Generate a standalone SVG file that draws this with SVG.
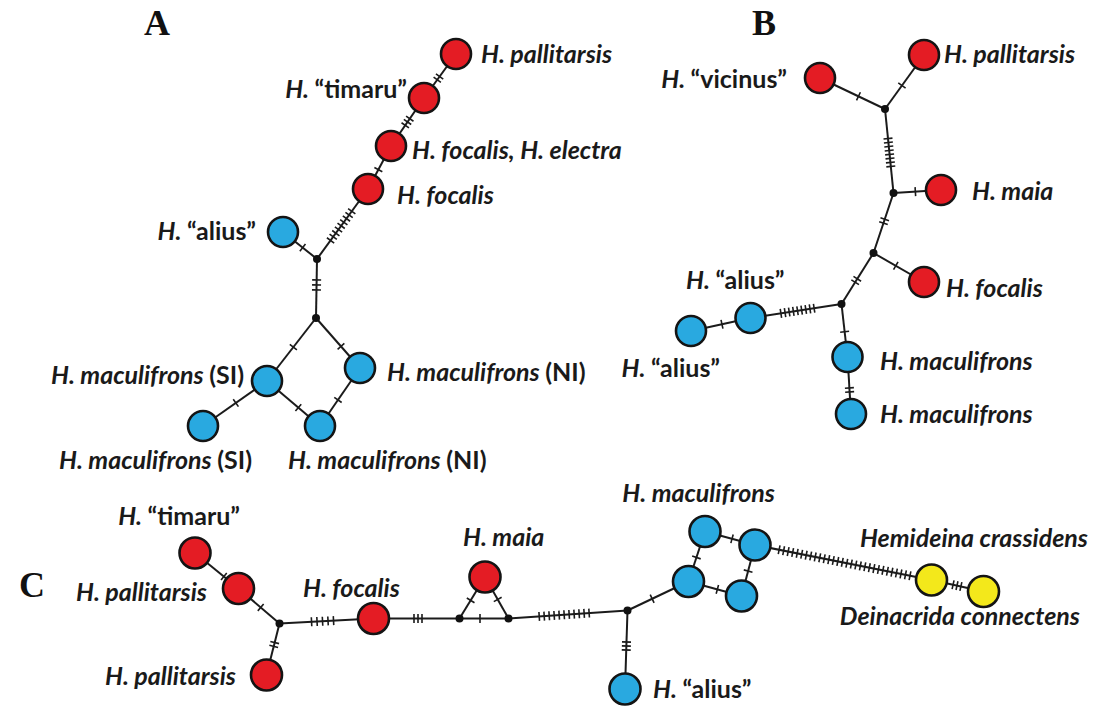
<svg xmlns="http://www.w3.org/2000/svg" width="1093" height="708" viewBox="0 0 1093 708">
<style>
  .e{fill:none;stroke:#1b1b1b;stroke-width:2}
  .t{fill:none;stroke:#1b1b1b;stroke-width:9;stroke-linecap:butt}
  .n{stroke:#141414;stroke-width:2.6}
  .r{fill:#e41c24}
  .b{fill:#29a9e0}
  .y{fill:#f3e81b}
  .j{fill:#111}
  .lb{font-family:Lato,"Liberation Sans",sans-serif;font-weight:bold;font-style:italic;font-size:25px;fill:#1a1a1a}
  .u{font-style:normal}
  .pl{font-family:"Liberation Serif","Times New Roman",serif;font-weight:bold;font-size:36px;fill:#111;text-anchor:middle}
  .end{text-anchor:end}
</style>

<!-- panel letters -->
<text class="pl" x="157" y="35">A</text>
<text class="pl" x="764" y="35">B</text>
<text class="pl" x="32" y="597">C</text>

<!-- connectors: branch lines plus mutation hatch marks -->
<g id="connectors">
  <!-- network A -->
  <path class="e" d="M456 54L424 98"/><path class="t" d="M456 54L424 98" stroke-dasharray="0 27.1 1.6 2.4 1.6 2000"/>
  <path class="e" d="M424 98L391 146"/><path class="t" d="M424 98L391 146" stroke-dasharray="0 24.3 1.6 2.4 1.6 2.4 1.6 2000"/>
  <path class="e" d="M391 146L368 189"/><path class="t" d="M391 146L368 189" stroke-dasharray="0 26 1.6 2000"/>
  <path class="e" d="M368 189L317 259"/><path class="t" d="M368 189L317 259" stroke-dasharray="0 26.8 1.6 2.9 1.6 2.9 1.6 2.9 1.6 2.9 1.6 2.9 1.6 2.9 1.6 2.9 1.6 2.9 1.6 2000"/>
  <path class="e" d="M283 232L317 259"/><path class="t" d="M283 232L317 259" stroke-dasharray="0 24.3 1.6 2000"/>
  <path class="e" d="M317 259L316 318"/><path class="t" d="M317 259L316 318" stroke-dasharray="0 20.2 1.6 3.4 1.6 3.4 1.6 2000"/>
  <path class="e" d="M316 318L267 381"/><path class="t" d="M316 318L267 381" stroke-dasharray="0 36.1 1.6 2000"/>
  <path class="e" d="M316 318L360 368"/><path class="t" d="M316 318L360 368" stroke-dasharray="0 37 1.6 2000"/>
  <path class="e" d="M267 381L203 426"/><path class="t" d="M267 381L203 426" stroke-dasharray="0 37.3 1.6 2000"/>
  <path class="e" d="M267 381L320 426"/><path class="t" d="M267 381L320 426" stroke-dasharray="0 40.3 1.6 2000"/>
  <path class="e" d="M360 368L320 426"/><path class="t" d="M360 368L320 426" stroke-dasharray="0 38 1.6 2000"/>

  <!-- network B -->
  <path class="e" d="M820 78L885 109"/><path class="t" d="M820 78L885 109" stroke-dasharray="0 41.8 1.6 2000"/>
  <path class="e" d="M924 55L885 109"/><path class="t" d="M924 55L885 109" stroke-dasharray="0 36.9 1.6 2000"/>
  <path class="e" d="M885 109L893.5 193"/><path class="t" d="M885 109L893.5 193" stroke-dasharray="0 28.9 1.6 2.4 1.6 2.4 1.6 2.4 1.6 2.4 1.6 2.4 1.6 2.4 1.6 2.4 1.6 2000"/>
  <path class="e" d="M893.5 193L941 190"/><path class="t" d="M893.5 193L941 190" stroke-dasharray="0 21.1 1.6 2000"/>
  <path class="e" d="M893.5 193L873.5 253"/><path class="t" d="M893.5 193L873.5 253" stroke-dasharray="0 26.9 1.6 2.4 1.6 2000"/>
  <path class="e" d="M873.5 253L924 282"/><path class="t" d="M873.5 253L924 282" stroke-dasharray="0 24.9 1.6 2000"/>
  <path class="e" d="M873.5 253L841.5 304"/><path class="t" d="M873.5 253L841.5 304" stroke-dasharray="0 29.7 1.6 2.4 1.6 2000"/>
  <path class="e" d="M841.5 304L750.5 318"/><path class="t" d="M841.5 304L750.5 318" stroke-dasharray="0 26.9 1.6 2.6 1.6 2.6 1.6 2.6 1.6 2.6 1.6 2.6 1.6 2.6 1.6 2.6 1.6 2.6 1.6 2000"/>
  <path class="e" d="M750.5 318L691 331"/><path class="t" d="M750.5 318L691 331" stroke-dasharray="0 28.4 1.6 2000"/>
  <path class="e" d="M841.5 304L847.5 357"/><path class="t" d="M841.5 304L847.5 357" stroke-dasharray="0 27.1 1.6 2000"/>
  <path class="e" d="M847.5 357L851 414"/><path class="t" d="M847.5 357L851 414" stroke-dasharray="0 30.2 1.6 2.4 1.6 2000"/>

  <!-- network C -->
  <path class="e" d="M195 553L238.5 588.5"/><path class="t" d="M195 553L238.5 588.5" stroke-dasharray="0 36.5 1.6 2000"/>
  <path class="e" d="M238.5 588.5L279.5 623.5"/><path class="t" d="M238.5 588.5L279.5 623.5" stroke-dasharray="0 28.4 1.6 2000"/>
  <path class="e" d="M279.5 623.5L266.5 675"/><path class="t" d="M279.5 623.5L266.5 675" stroke-dasharray="0 18.8 1.6 2.4 1.6 2000"/>
  <path class="e" d="M279.5 623.5L373.5 618.5"/><path class="t" d="M279.5 623.5L373.5 618.5" stroke-dasharray="0 31.3 1.6 3.9 1.6 3.9 1.6 3.9 1.6 3.9 1.6 2000"/>
  <path class="e" d="M373.5 618.5L459.5 618.5"/><path class="t" d="M373.5 618.5L459.5 618.5" stroke-dasharray="0 39.7 1.6 2.4 1.6 2.4 1.6 2000"/>
  <path class="e" d="M459.5 618.5L485 577"/><path class="t" d="M459.5 618.5L485 577" stroke-dasharray="0 20.5 1.6 2000"/>
  <path class="e" d="M508.5 618.5L485 577"/><path class="t" d="M508.5 618.5L485 577" stroke-dasharray="0 21.1 1.6 2000"/>
  <path class="e" d="M459.5 618.5L508.5 618.5"/><path class="t" d="M459.5 618.5L508.5 618.5" stroke-dasharray="0 19.7 1.6 2000"/>
  <path class="e" d="M508.5 618.5L627.5 610.5"/><path class="t" d="M508.5 618.5L627.5 610.5" stroke-dasharray="0 30 1.6 3.4 1.6 3.4 1.6 3.4 1.6 3.4 1.6 3.4 1.6 3.4 1.6 3.4 1.6 3.4 1.6 3.4 1.6 3.4 1.6 2000"/>
  <path class="e" d="M627.5 610.5L625 689"/><path class="t" d="M627.5 610.5L625 689" stroke-dasharray="0 30.7 1.6 2.4 1.6 2.4 1.6 2000"/>
  <path class="e" d="M627.5 610.5L688.5 581.5"/><path class="t" d="M627.5 610.5L688.5 581.5" stroke-dasharray="0 26.5 1.6 2000"/>
  <path class="e" d="M688.5 581.5L705 531.5"/><path class="t" d="M688.5 581.5L705 531.5" stroke-dasharray="0 24.5 1.6 2000"/>
  <path class="e" d="M705 531.5L755 545"/><path class="t" d="M705 531.5L755 545" stroke-dasharray="0 27.2 1.6 2000"/>
  <path class="e" d="M755 545L741.5 596"/><path class="t" d="M755 545L741.5 596" stroke-dasharray="0 26.1 1.6 2000"/>
  <path class="e" d="M688.5 581.5L741.5 596"/><path class="t" d="M688.5 581.5L741.5 596" stroke-dasharray="0 29.1 1.6 2000"/>
  <path class="e" d="M755 545L931.5 580"/><path class="t" d="M755 545L931.5 580" stroke-dasharray="0 23.8 1.6 3 1.6 3 1.6 3 1.6 3 1.6 3 1.6 3 1.6 3 1.6 3 1.6 3 1.6 3 1.6 3 1.6 3 1.6 3 1.6 3 1.6 3 1.6 3 1.6 3 1.6 3 1.6 3 1.6 3 1.6 3 1.6 3 1.6 3 1.6 3 1.6 3 1.6 3 1.6 3 1.6 3 1.6 3 1.6 2000"/>
  <path class="e" d="M931.5 580L983.5 591.5"/><path class="t" d="M931.5 580L983.5 591.5" stroke-dasharray="0 21.3 1.6 2.4 1.6 2.4 1.6 2000"/>
</g>

<!-- network A nodes -->
<g id="a-pallitarsis"><circle class="n r" cx="456" cy="54" r="15"/><text class="lb" x="481" y="63">H. pallitarsis</text></g>
<g id="a-timaru"><circle class="n r" cx="424" cy="98" r="15"/><text class="lb end" x="407" y="98">H. <tspan class="u">“timaru”</tspan></text></g>
<g id="a-focalis-electra"><circle class="n r" cx="391" cy="146" r="15"/><text class="lb" x="412" y="159">H. focalis, H. electra</text></g>
<g id="a-focalis"><circle class="n r" cx="368" cy="189" r="15"/><text class="lb" x="397" y="204">H. focalis</text></g>
<g id="a-alius"><circle class="n b" cx="283" cy="232" r="15"/><text class="lb end" x="256" y="240">H. <tspan class="u">“alius”</tspan></text></g>
<g id="a-mac-si-1"><circle class="n b" cx="267" cy="381" r="15"/><text class="lb end" x="244" y="384">H. maculifrons <tspan class="u">(SI)</tspan></text></g>
<g id="a-mac-ni-1"><circle class="n b" cx="360" cy="368" r="15"/><text class="lb" x="387" y="381">H. maculifrons <tspan class="u">(NI)</tspan></text></g>
<g id="a-mac-si-2"><circle class="n b" cx="203" cy="426" r="15"/><text class="lb end" x="252" y="469">H. maculifrons <tspan class="u">(SI)</tspan></text></g>
<g id="a-mac-ni-2"><circle class="n b" cx="320" cy="426" r="15"/><text class="lb" x="288" y="469">H. maculifrons <tspan class="u">(NI)</tspan></text></g>
<g id="a-median-1"><circle class="j" cx="317" cy="259" r="4"/></g>
<g id="a-median-2"><circle class="j" cx="316" cy="318" r="4"/></g>

<!-- network B nodes -->
<g id="b-vicinus"><circle class="n r" cx="820" cy="78" r="15"/><text class="lb end" x="787" y="88">H. <tspan class="u">“vicinus”</tspan></text></g>
<g id="b-pallitarsis"><circle class="n r" cx="924" cy="55" r="15"/><text class="lb" x="944" y="63">H. pallitarsis</text></g>
<g id="b-maia"><circle class="n r" cx="941" cy="190" r="15"/><text class="lb" x="972" y="200">H. maia</text></g>
<g id="b-focalis"><circle class="n r" cx="924" cy="282" r="15"/><text class="lb" x="946" y="297">H. focalis</text></g>
<g id="b-alius-1"><circle class="n b" cx="750.5" cy="318" r="15"/><text class="lb" x="686" y="289">H. <tspan class="u">“alius”</tspan></text></g>
<g id="b-alius-2"><circle class="n b" cx="691" cy="331" r="15"/><text class="lb end" x="720" y="377">H. <tspan class="u">“alius”</tspan></text></g>
<g id="b-mac-1"><circle class="n b" cx="847.5" cy="357" r="15"/><text class="lb" x="880" y="370">H. maculifrons</text></g>
<g id="b-mac-2"><circle class="n b" cx="851" cy="414" r="15"/><text class="lb" x="880" y="423">H. maculifrons</text></g>
<g id="b-median-1"><circle class="j" cx="885" cy="109" r="4"/></g>
<g id="b-median-2"><circle class="j" cx="893.5" cy="193" r="4"/></g>
<g id="b-median-3"><circle class="j" cx="873.5" cy="253" r="4"/></g>
<g id="b-median-4"><circle class="j" cx="841.5" cy="304" r="4"/></g>

<!-- network C nodes -->
<g id="c-timaru"><circle class="n r" cx="195" cy="553" r="15.5"/><text class="lb end" x="240" y="525">H. <tspan class="u">“timaru”</tspan></text></g>
<g id="c-pallitarsis-1"><circle class="n r" cx="238.5" cy="588.5" r="15.5"/><text class="lb end" x="207" y="601">H. pallitarsis</text></g>
<g id="c-pallitarsis-2"><circle class="n r" cx="266.5" cy="675" r="15.5"/><text class="lb end" x="236" y="685">H. pallitarsis</text></g>
<g id="c-focalis"><circle class="n r" cx="373.5" cy="618.5" r="15.5"/><text class="lb" x="303" y="597">H. focalis</text></g>
<g id="c-maia"><circle class="n r" cx="485" cy="577" r="15.5"/><text class="lb" x="463" y="546">H. maia</text></g>
<g id="c-alius"><circle class="n b" cx="625" cy="689" r="15.5"/><text class="lb" x="653" y="698">H. <tspan class="u">“alius”</tspan></text></g>
<g id="c-mac-1"><circle class="n b" cx="688.5" cy="581.5" r="15.5"/></g>
<g id="c-mac-2"><circle class="n b" cx="705" cy="531.5" r="15.5"/><text class="lb end" x="775" y="502">H. maculifrons</text></g>
<g id="c-mac-3"><circle class="n b" cx="755" cy="545" r="15.5"/></g>
<g id="c-mac-4"><circle class="n b" cx="741.5" cy="596" r="15.5"/></g>
<g id="c-hemideina"><circle class="n y" cx="931.5" cy="580" r="15.5"/><text class="lb end" x="1088" y="547">Hemideina crassidens</text></g>
<g id="c-deinacrida"><circle class="n y" cx="983.5" cy="591.5" r="15.5"/><text class="lb end" x="1080" y="625">Deinacrida connectens</text></g>
<g id="c-median-1"><circle class="j" cx="279.5" cy="623.5" r="4"/></g>
<g id="c-median-2"><circle class="j" cx="459.5" cy="618.5" r="4"/></g>
<g id="c-median-3"><circle class="j" cx="508.5" cy="618.5" r="4"/></g>
<g id="c-median-4"><circle class="j" cx="627.5" cy="610.5" r="4"/></g>
</svg>
